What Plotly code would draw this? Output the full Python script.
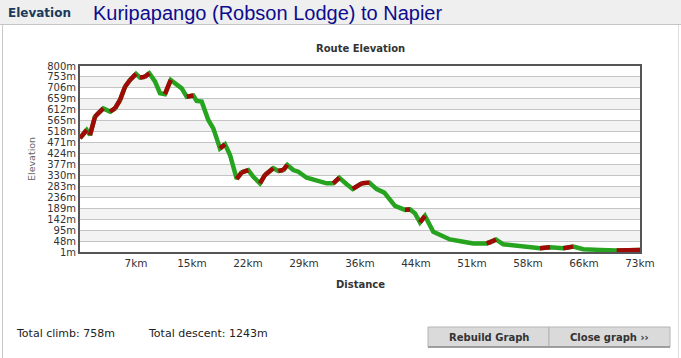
import plotly.graph_objects as go

# ---- data ----
distance_km = [0.0, 0.87, 1.30, 1.95, 2.47, 3.03, 3.91, 4.56, 5.21, 5.86, 6.51, 7.29, 7.81, 8.46,
               9.02, 9.76, 10.41, 11.06, 11.81, 12.59, 13.24, 13.89, 14.75, 15.19, 15.84, 16.70,
               17.35, 17.79, 18.22, 18.88, 19.53, 20.40, 21.05, 21.91, 22.56, 23.43, 24.08, 25.16,
               25.81, 26.46, 26.99, 27.77, 28.42, 29.51, 30.81, 32.11, 32.97, 33.75, 34.72, 35.50,
               36.67, 37.66, 38.62, 39.61, 41.00, 42.31, 42.96, 43.61, 44.26, 44.91, 45.99, 46.86,
               48.16, 49.90, 51.20, 52.94, 53.59, 54.15, 55.10, 56.84, 59.88, 61.18, 62.26, 62.91,
               64.21, 65.51, 67.69, 69.86, 72.90]
elevation_m = [490, 525, 503, 582, 600, 618, 604, 618, 654, 711, 740, 766, 750, 754,
               769, 734, 683, 679, 740, 718, 704, 668, 673, 650, 647, 568,
               532, 489, 446, 464, 418, 315, 343, 353, 324, 296, 332, 361,
               349, 353, 375, 353, 346, 320, 306, 296, 296, 320, 292, 272,
               296, 299, 271, 256, 199, 182, 184, 167, 128, 156, 88, 74,
               55, 45, 38, 38, 45, 55, 34, 27, 17, 21, 21, 17,
               24, 13, 10, 7, 10]
x_tick_km = [7.29, 14.58, 21.87, 29.16, 36.45, 43.74, 51.03, 58.32, 65.61, 72.9]
x_tick_labels = ["7km", "15km", "22km", "29km", "36km", "44km", "51km", "58km", "66km", "73km"]
y_tick_vals = [1, 48, 95, 142, 189, 236, 283, 330, 377, 424, 471, 518, 565, 612, 659, 706, 753, 800]
y_tick_labels = [f"{v}m" for v in y_tick_vals]
total_climb = "758m"
total_descent = "1243m"
route_name = "Kuripapango (Robson Lodge) to Napier"

# ---- geometry helpers (plot area: x 80..640, y 66..252 px) ----
W, H = 681, 358
L, R, T, B = 80, 640, 66, 252


def px(x):
    return (x - L) / (R - L)


def py(y):
    return (B - y) / (B - T)


# climbing segments in red
red_x, red_y = [], []
for i in range(len(distance_km) - 1):
    if elevation_m[i + 1] > elevation_m[i]:
        red_x += [distance_km[i], distance_km[i + 1], None]
        red_y += [elevation_m[i], elevation_m[i + 1], None]

GREEN = "#26a31f"
RED = "#a10808"

fig = go.Figure()
fig.add_trace(go.Scatter(x=distance_km, y=elevation_m, mode="lines",
                         line=dict(color=GREEN, width=4.5), hoverinfo="skip", showlegend=False))
fig.add_trace(go.Scatter(x=red_x, y=red_y, mode="lines",
                         line=dict(color=RED, width=4.5), hoverinfo="skip", showlegend=False,
                         connectgaps=False))

shapes = []
# alternating bands
for i in range(len(y_tick_vals) - 1):
    if i % 2 == 1:
        shapes.append(dict(type="rect", xref="paper", yref="y", x0=0, x1=1,
                           y0=y_tick_vals[i], y1=y_tick_vals[i + 1],
                           fillcolor="#f3f3f3", line=dict(width=0), layer="below"))
# header background
shapes.append(dict(type="rect", xref="paper", yref="paper", x0=px(0), x1=px(W), y0=py(0), y1=py(24),
                   fillcolor="#efefef", line=dict(width=0), layer="below"))
shapes.append(dict(type="line", xref="paper", yref="paper", x0=px(0), x1=px(W), y0=py(24.5), y1=py(24.5),
                   line=dict(color="#c4c4c4", width=1)))
# left and right panel borders
shapes.append(dict(type="line", xref="paper", yref="paper", x0=px(2.5), x1=px(2.5), y0=py(25), y1=py(H),
                   line=dict(color="#c8c8c8", width=1)))
shapes.append(dict(type="line", xref="paper", yref="paper", x0=px(678.5), x1=px(678.5), y0=py(25), y1=py(H),
                   line=dict(color="#dddddd", width=1)))
# buttons
for x0, x1 in [(428, 549), (549, 670)]:
    shapes.append(dict(type="rect", xref="paper", yref="paper", x0=px(x0), x1=px(x1), y0=py(327), y1=py(347),
                       fillcolor="#dadada", line=dict(color="#b4b4b4", width=1)))
    shapes.append(dict(type="line", xref="paper", yref="paper", x0=px(x0), x1=px(x1), y0=py(347), y1=py(347),
                       line=dict(color="#8c8c8c", width=1.5)))

annotations = [
    dict(text="<b>Elevation</b>", x=px(6), y=py(13), xref="paper", yref="paper", xanchor="left",
         yanchor="middle", showarrow=False, font=dict(family="DejaVu Sans", size=12, color="#1c3a5c")),
    dict(text=route_name, x=px(91), y=py(13), xref="paper", yref="paper", xanchor="left",
         yanchor="middle", showarrow=False,
         font=dict(family="Liberation Sans, Arial, sans-serif", size=20, color="#0c0c8e")),
    dict(text="<b>Route Elevation</b>", x=0.5, y=py(48), xref="paper", yref="paper", xanchor="center",
         yanchor="middle", showarrow=False, font=dict(family="DejaVu Sans", size=10, color="#333333")),
    dict(text="<b>Distance</b>", x=0.5, y=py(284), xref="paper", yref="paper", xanchor="center",
         yanchor="middle", showarrow=False, font=dict(family="DejaVu Sans", size=10, color="#333333")),
    dict(text="Elevation", x=px(31), y=py(159), xref="paper", yref="paper", xanchor="center",
         yanchor="middle", showarrow=False, textangle=-90,
         font=dict(family="DejaVu Sans", size=9.5, color="#666666")),
    dict(text=f"Total climb: {total_climb}", x=px(14), y=py(333), xref="paper", yref="paper",
         xanchor="left", yanchor="middle", showarrow=False,
         font=dict(family="DejaVu Sans", size=11, color="#222222")),
    dict(text=f"Total descent: {total_descent}", x=px(146), y=py(333), xref="paper", yref="paper",
         xanchor="left", yanchor="middle", showarrow=False,
         font=dict(family="DejaVu Sans", size=11, color="#222222")),
    dict(text="<b>Rebuild Graph</b>", x=px(488.5), y=py(337), xref="paper", yref="paper",
         xanchor="center", yanchor="middle", showarrow=False,
         font=dict(family="DejaVu Sans", size=10, color="#333333")),
    dict(text="<b>Close graph ››</b>", x=px(609.5), y=py(337), xref="paper", yref="paper",
         xanchor="center", yanchor="middle", showarrow=False,
         font=dict(family="DejaVu Sans", size=10, color="#333333")),
]

fig.update_layout(
    width=W, height=H,
    margin=dict(l=L, r=W - R, t=T, b=H - B, pad=0),
    paper_bgcolor="white", plot_bgcolor="white",
    shapes=shapes, annotations=annotations,
    xaxis=dict(range=[0, 72.9], tickvals=x_tick_km, ticktext=x_tick_labels, showgrid=False,
               zeroline=False, showline=True, mirror=True, linecolor="#555555", linewidth=2,
               ticks="", tickfont=dict(family="DejaVu Sans", size=10.5, color="#333333"),
               fixedrange=True),
    yaxis=dict(range=[1, 800], tickvals=y_tick_vals, ticktext=y_tick_labels, showgrid=True,
               gridcolor="#c4c4c4", gridwidth=1, zeroline=False, showline=True, mirror=True,
               linecolor="#555555", linewidth=2, ticks="",
               tickfont=dict(family="DejaVu Sans", size=10, color="#333333"), fixedrange=True),
    showlegend=False,
)

fig.write_html("out.html", config={"displayModeBar": False},
               post_script="document.body.style.margin='0';document.body.style.overflow='hidden';")
